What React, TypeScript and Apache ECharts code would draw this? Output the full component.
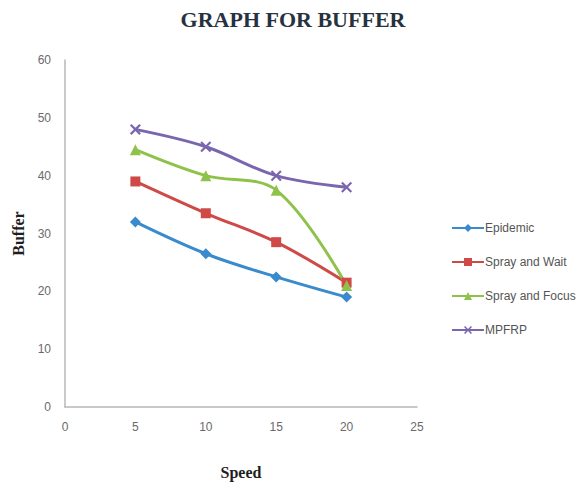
import React, { useEffect, useRef } from "react";
import * as echarts from "echarts";

const speeds = [5, 10, 15, 20];
const epidemic = [32, 26.5, 22.5, 19];
const sprayAndWait = [39, 33.5, 28.5, 21.5];
const sprayAndFocus = [44.5, 40, 37.5, 21];
const mpfrp = [48, 45, 40, 38];
const seriesNames = ["Epidemic", "Spray and Wait", "Spray and Focus", "MPFRP"];

const crossSymbol =
  "path://M0,1.4 L1.4,0 L5,3.6 L8.6,0 L10,1.4 L6.4,5 L10,8.6 L8.6,10 L5,6.4 L1.4,10 L0,8.6 L3.6,5 Z";

const pairs = (ys: number[]) => speeds.map((x, i) => [x, ys[i]]);

export default function App() {
  const ref = useRef<HTMLDivElement>(null);

  useEffect(() => {
    if (!ref.current) return;
    const chart = echarts.init(ref.current, undefined, { renderer: "svg" });
    const tickLabel = {
      color: "#6a6a6a",
      fontSize: 12,
      fontFamily: "Liberation Sans, Arial, sans-serif",
    };
    const axisName = {
      color: "#1e1e1e",
      fontSize: 16,
      fontWeight: "bold" as const,
      fontFamily: "Liberation Serif, Times New Roman, serif",
    };
    const mk = (
      name: string,
      ys: number[],
      color: string,
      symbol: string,
      symbolSize: number
    ) => ({
      name,
      type: "line",
      data: pairs(ys),
      smooth: 0.35,
      symbol,
      symbolSize,
      lineStyle: { color, width: 3 },
      itemStyle: { color },
    });
    chart.setOption({
      animation: false,
      backgroundColor: "#ffffff",
      title: {
        text: "GRAPH FOR BUFFER",
        left: 288,
        top: 3,
        textAlign: "center",
        textStyle: {
          color: "#27323f",
          fontSize: 22,
          fontWeight: "bold",
          fontFamily: "Liberation Serif, Times New Roman, serif",
        },
      },
      grid: { left: 65, top: 60, right: 169, bottom: 84 },
      xAxis: {
        type: "value",
        min: 0,
        max: 25,
        interval: 5,
        name: "Speed",
        nameLocation: "middle",
        nameGap: 57,
        nameTextStyle: axisName,
        axisLine: { show: true, lineStyle: { color: "#b8b8b8", width: 1.5 } },
        axisTick: { show: false },
        splitLine: { show: false },
        axisLabel: { ...tickLabel, margin: 14 },
      },
      yAxis: {
        type: "value",
        min: 0,
        max: 60,
        interval: 10,
        name: "Buffer",
        nameLocation: "middle",
        nameGap: 36,
        nameRotate: 90,
        nameTextStyle: axisName,
        axisLine: { show: true, lineStyle: { color: "#b8b8b8", width: 1.5 } },
        axisTick: { show: false },
        splitLine: { show: false },
        axisLabel: { ...tickLabel, margin: 14 },
      },
      legend: {
        orient: "vertical",
        left: 446,
        top: 217,
        itemWidth: 32,
        itemHeight: 10,
        itemGap: 22,
        textStyle: {
          color: "#555555",
          fontSize: 12,
          fontFamily: "Liberation Sans, Arial, sans-serif",
          padding: [0, 0, 0, -4],
        },
        data: seriesNames,
      },
      series: [
        mk(seriesNames[0], epidemic, "#3a8bcd", "diamond", 11),
        mk(seriesNames[1], sprayAndWait, "#cf4a47", "rect", 10),
        mk(seriesNames[2], sprayAndFocus, "#8fc24a", "triangle", 11),
        mk(seriesNames[3], mpfrp, "#7a66ae", crossSymbol, 11),
      ],
    });
    return () => chart.dispose();
  }, []);

  return <div ref={ref} style={{ width: 586, height: 491, margin: -8 }} />;
}
